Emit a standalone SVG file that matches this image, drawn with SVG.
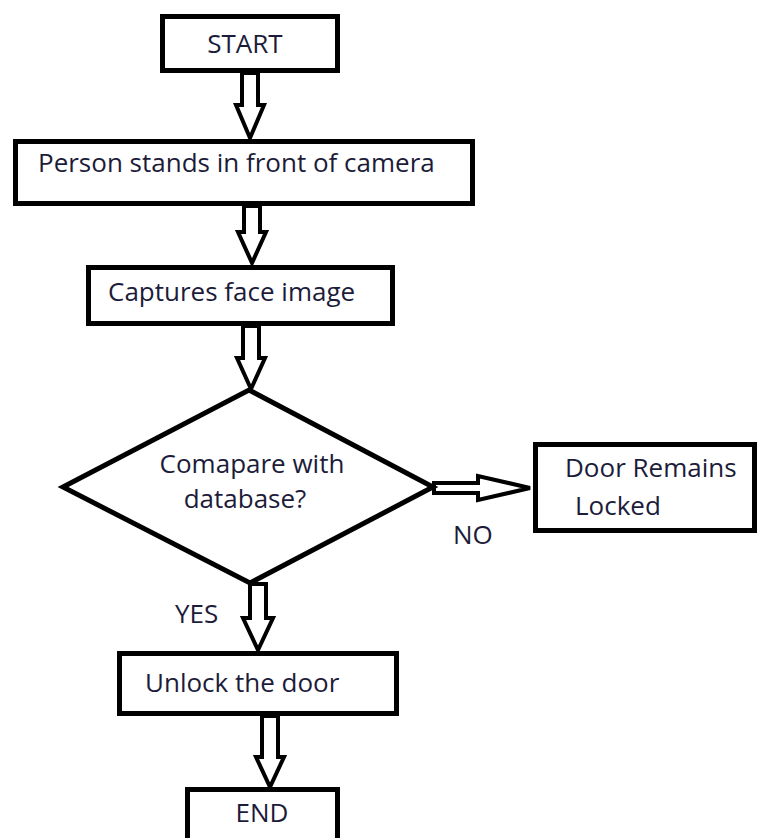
<svg xmlns="http://www.w3.org/2000/svg" width="760" height="838" viewBox="0 0 760 838">
<style>
.box{fill:#fff;stroke:#000;stroke-width:5}
.arr{fill:#fff;stroke:#000;stroke-width:4;stroke-linejoin:miter}
.t{font-family:"Open Sans","Liberation Sans",sans-serif;font-size:26px;fill:#1c1c3a}
.m{text-anchor:middle}
</style>
<rect width="760" height="838" fill="#fff"/>
<g id="connectors">
<polygon class="arr" points="242,73 258,73 258,105 264,105 250,138 236,105 242,105"/>
<polygon class="arr" points="244,206 260,206 260,232 266,232 252,263 238,232 244,232"/>
<polygon class="arr" points="243,326 259,326 259,358 265,358 251,389 237,358 243,358"/>
<polygon class="arr" points="250,584 266,584 266,618 273,618 258,650 243,618 250,618"/>
<polygon class="arr" points="262,716 278,716 278,757 284,757 270,787 256,757 262,757"/>
<polygon class="arr" points="434,483 478,483 478,476 530,488 478,500 478,493 434,493"/>
</g>
<g id="start">
<rect class="box" x="162.5" y="16.5" width="175" height="54"/>
<text class="t m" x="245" y="53">START</text>
</g>
<g id="person">
<rect class="box" x="15.5" y="141.5" width="457" height="62"/>
<text class="t" x="38" y="172">Person stands in front of camera</text>
</g>
<g id="capture">
<rect class="box" x="88.5" y="267.5" width="304" height="56"/>
<text class="t" x="108" y="301">Captures face image</text>
</g>
<g id="compare">
<polygon class="box" points="249,390 433,487 250,583 63,487"/>
<text class="t m" x="252" y="473">Comapare with</text>
<text class="t m" x="245" y="508">database?</text>
</g>
<g id="locked">
<rect class="box" x="535.5" y="444.5" width="219" height="86"/>
<text class="t" x="565" y="477">Door Remains</text>
<text class="t" x="575" y="515">Locked</text>
</g>
<g id="labels">
<text class="t" x="453" y="544">NO</text>
<text class="t" x="175" y="623">YES</text>
</g>
<g id="unlock">
<rect class="box" x="119.5" y="653.5" width="277" height="60"/>
<text class="t" x="145" y="692">Unlock the door</text>
</g>
<g id="end">
<rect class="box" x="187.5" y="789.5" width="150" height="60"/>
<text class="t m" x="262" y="822">END</text>
</g>
</svg>
